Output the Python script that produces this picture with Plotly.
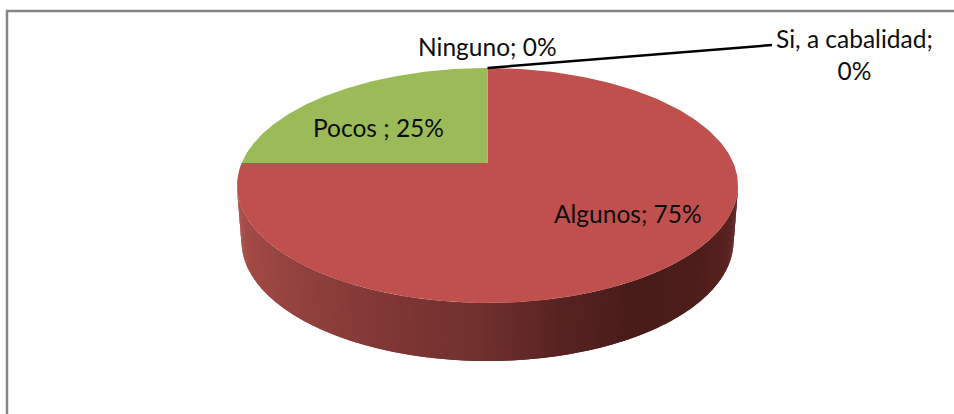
import numpy as np
import plotly.graph_objects as go

categories = ["Si, a cabalidad", "Algunos", "Pocos ", "Ninguno"]
percent_values = [0, 75, 25, 0]
slice_colors = ["#4F81BD", "#C0504D", "#9BBB59", "#8064A2"]

W, H = 954, 414
CX, CY, RX, RY = 487.5, 185.5, 250.5, 117.5   # top ellipse
APEX = (487.5, 163.0)                         # projected pie centre
BOT_CY, BOT_RX, BOT_RY = 241.0, 246.0, 120.0  # bottom ellipse


def rim(frac):
    """Point where the radius at pie fraction `frac` meets the top ellipse."""
    t = 2 * np.pi * np.asarray(frac, dtype=float)
    dx, dy = np.sin(t) * RX, -np.cos(t) * RY
    ox, oy = (APEX[0] - CX) / RX, (APEX[1] - CY) / RY
    ux, uy = dx / RX, dy / RY
    a = ux**2 + uy**2
    b = 2 * (ox * ux + oy * uy)
    c = ox**2 + oy**2 - 1
    s = (-b + np.sqrt(b**2 - 4 * a * c)) / (2 * a)
    return APEX[0] + s * dx, APEX[1] + s * dy


def wall_color(x):
    stops_x = [238, 300, 400, 487, 560, 640, 700, 738]
    r = [166, 146, 126, 112, 88, 72, 78, 92]
    g = [76, 66, 54, 48, 36, 28, 30, 36]
    b = [72, 62, 52, 46, 34, 26, 28, 34]
    return "rgb(%d,%d,%d)" % (np.interp(x, stops_x, r), np.interp(x, stops_x, g), np.interp(x, stops_x, b))


fig = go.Figure()

# Side wall: vertical shaded strips between the top and bottom rims
edges = np.linspace(np.pi, 0, 281)
for i in range(len(edges) - 1):
    p = np.linspace(edges[i], edges[i + 1] - 0.012, 4)
    xt = CX + RX * np.cos(p)
    yt = CY + RY * np.sin(p)
    xb = CX + BOT_RX * np.cos(p)
    yb = BOT_CY + BOT_RY * np.sin(p)
    fig.add_trace(go.Scatter(
        x=np.r_[xt, xb[::-1]], y=np.r_[yt, yb[::-1]], mode="lines",
        fill="toself", fillcolor=wall_color(xt.mean()), line=dict(width=0),
        hoverinfo="skip", showlegend=False))

# Top face slices, from the values
total = sum(percent_values)
start = 0.0
for name, val, col in zip(categories, percent_values, slice_colors):
    frac = val / total
    if frac > 0:
        fr = np.linspace(start, start + frac, 240)
        xs, ys = rim(fr)
        fig.add_trace(go.Scatter(
            x=np.r_[APEX[0], xs, APEX[0]], y=np.r_[APEX[1], ys, APEX[1]],
            mode="lines", fill="toself", fillcolor=col, line=dict(width=0, color=col),
            name=name, hoverinfo="name", showlegend=False))
    start += frac

# Leader line of the first (zero) slice
top_x, top_y = rim(0.0)
fig.add_trace(go.Scatter(x=[top_x, 772], y=[top_y, 45], mode="lines",
                         line=dict(color="black", width=2.5), hoverinfo="skip", showlegend=False))

# Data labels
label_pos = [(854, 54), (628, 213), (378, 127), (487, 46)]
annotations = []
for (name, val, (lx, ly)) in zip(categories, percent_values, label_pos):
    txt = f"{name}; {val}%"
    if name.startswith("Si"):
        txt = f"{name};<br>{val}%"
    annotations.append(dict(x=lx, y=ly, xref="x", yref="y", text=txt, showarrow=False,
                            font=dict(family="Lato", size=24.5, color="#0d0d0d"), align="center",
                            xanchor="center", yanchor="middle"))

BORDER = "#868686"
fig.update_layout(
    width=W, height=H, margin=dict(l=0, r=0, t=0, b=0),
    paper_bgcolor="white", plot_bgcolor="white", showlegend=False,
    annotations=annotations,
    xaxis=dict(range=[0, W], visible=False, fixedrange=True),
    yaxis=dict(range=[H, 0], visible=False, fixedrange=True),
    shapes=[
        dict(type="line", x0=7, x1=7, y0=10, y1=H, line=dict(color=BORDER, width=2.5), layer="below"),
        dict(type="line", x0=6, x1=W, y0=11, y1=11, line=dict(color=BORDER, width=2.5), layer="below"),
    ],
)
fig.write_html("out.html", config=dict(displayModeBar=False),
               post_script="document.body.style.margin='0';document.body.style.overflow='hidden';")
